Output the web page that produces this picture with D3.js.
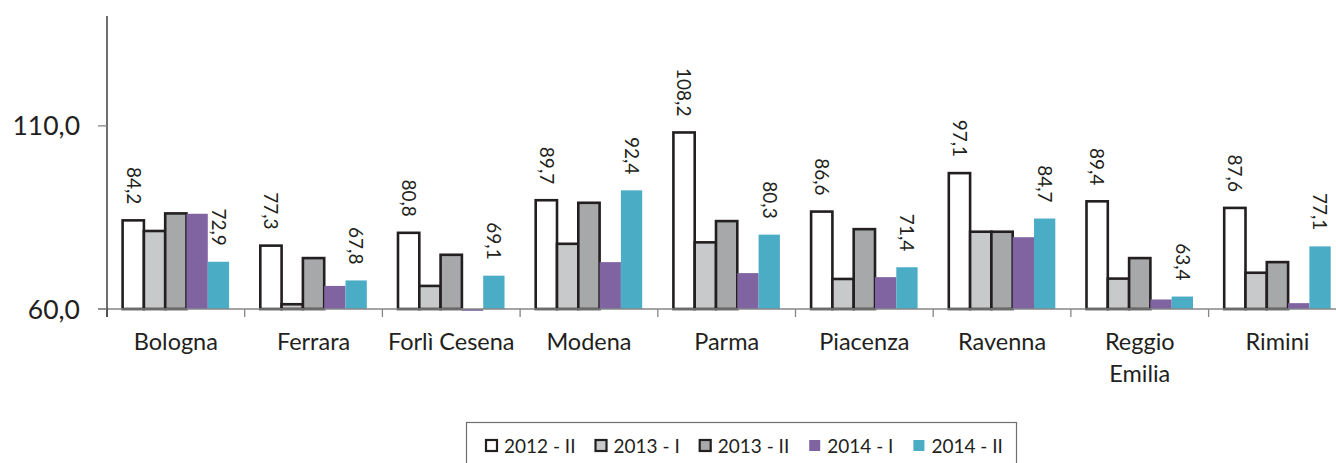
<!DOCTYPE html>
<html>
<head>
<meta charset="utf-8">
<script src="https://cdn.jsdelivr.net/npm/d3@7"></script>
<style>
  body { margin: 0; background: #fff; }
  svg { display: block; font-family: Lato, "Open Sans", sans-serif; }
</style>
</head>
<body>
<div id="chart"></div>
<script>
var provinces = ["Bologna", "Ferrara", "Forlì Cesena", "Modena", "Parma", "Piacenza", "Ravenna", "Reggio Emilia", "Rimini"];
var periods   = ["2012 - II", "2013 - I", "2013 - II", "2014 - I", "2014 - II"];

var s2012_II = [84.2, 77.3, 80.8, 89.7, 108.2, 86.6, 97.1, 89.4, 87.6];
var s2013_I  = [81.3, 61.3, 66.3, 77.8, 78.2, 68.2, 81.1, 68.3, 69.9];
var s2013_II = [86.1, 73.9, 74.8, 89.0, 84.0, 81.8, 81.1, 73.9, 72.8];
var s2014_I  = [86.0, 66.3, 59.5, 72.8, 69.8, 68.7, 79.6, 62.6, 61.6];
var s2014_II = [72.9, 67.8, 69.1, 92.4, 80.3, 71.4, 84.7, 63.4, 77.1];

var yTicks = [60, 110];
var labelled = ["2012 - II", "2014 - II"];

var fills   = ["#ffffff", "#c8c9ca", "#a7a8a9", "#8064a2", "#4bacc6"];
var strokes = ["#231f20", "#231f20", "#231f20", "none", "none"];

var margin = {top: 16, left: 107, right: 0, bottom: 154},
    W = 1336, H = 463,
    height = H - margin.top - margin.bottom,
    bandW = 137.7;

var allSeries = [s2012_II, s2013_I, s2013_II, s2014_I, s2014_II];
var data = provinces.map(function(p, i) {
  return {name: p, values: periods.map(function(s, j) { return {key: s, value: allSeries[j][i]}; })};
});

var x0 = d3.scaleBand().domain(provinces).range([0, bandW * provinces.length]).padding(0),
    x1 = d3.scaleBand().domain(periods).range([15.6, bandW - 15.6]),
    y  = d3.scaleLinear().domain([60, 140]).range([height, 0]),
    color = d3.scaleOrdinal().domain(periods).range(fills),
    edge  = d3.scaleOrdinal().domain(periods).range(strokes);

var fmt = function(v) { return d3.format(".1f")(v).replace(".", ","); };

var svg = d3.select("#chart").append("svg")
    .attr("width", W).attr("height", H);

var g = svg.append("g").attr("transform", "translate(" + margin.left + "," + margin.top + ")");

// bars
var groups = g.selectAll(".grp").data(data).enter().append("g")
    .attr("class", "grp")
    .attr("transform", function(d) { return "translate(" + x0(d.name) + ",0)"; });

groups.selectAll("rect").data(function(d) { return d.values; }).enter().append("rect")
    .attr("x", function(d) { return x1(d.key); })
    .attr("width", x1.bandwidth())
    .attr("y", function(d) { return Math.min(y(d.value), y(60)); })
    .attr("height", function(d) { return Math.abs(y(60) - y(d.value)); })
    .attr("fill", function(d) { return color(d.key); })
    .attr("stroke", function(d) { return edge(d.key); })
    .attr("stroke-width", 2.6);

// value labels
groups.selectAll("text.val").data(function(d) {
    return d.values.filter(function(v) { return labelled.indexOf(v.key) >= 0; });
  }).enter().append("text")
    .attr("class", "val")
    .attr("transform", function(d) {
      return "translate(" + (x1(d.key) + x1.bandwidth() / 2) + "," + (y(d.value) - 16) + ") rotate(90)";
    })
    .attr("text-anchor", "end")
    .attr("dy", "0.35em")
    .attr("font-size", 19)
    .attr("fill", "#231f20")
    .text(function(d) { return fmt(d.value); });

// x axis
var xAxis = g.append("g")
    .attr("transform", "translate(0," + height + ")");
xAxis.append("line")
    .attr("x1", -9).attr("x2", W).attr("stroke", "#868686").attr("stroke-width", 1.3);
xAxis.selectAll("line.tk").data(d3.range(provinces.length + 1)).enter().append("line")
    .attr("class", "tk")
    .attr("x1", function(i) { return i * x0.step(); })
    .attr("x2", function(i) { return i * x0.step(); })
    .attr("y1", 0).attr("y2", 8)
    .attr("stroke", "#868686").attr("stroke-width", 1.3);

xAxis.selectAll("text.cat").data(provinces).enter().append("text")
    .attr("class", "cat")
    .attr("x", function(d) { return x0(d) + x0.bandwidth() / 2; })
    .attr("y", 41)
    .attr("text-anchor", "middle")
    .attr("font-size", 23.5)
    .attr("fill", "#231f20")
    .each(function(d) {
      var t = d3.select(this), parts = d === "Reggio Emilia" ? ["Reggio", "Emilia"] : [d];
      parts.forEach(function(p, k) {
        t.append("tspan").attr("x", x0(d) + x0.bandwidth() / 2).attr("dy", k ? 31.5 : 0).text(p);
      });
    });

// y axis
g.append("line")
    .attr("x1", 0).attr("x2", 0).attr("y1", 0).attr("y2", height + 8)
    .attr("stroke", "#231f20").attr("stroke-width", 1.3);
g.selectAll("line.ytk").data(yTicks).enter().append("line")
    .attr("class", "ytk")
    .attr("x1", -9).attr("x2", 0)
    .attr("y1", function(d) { return y(d); }).attr("y2", function(d) { return y(d); })
    .attr("stroke", "#868686").attr("stroke-width", 1.3);
g.selectAll("text.ylab").data(yTicks).enter().append("text")
    .attr("class", "ylab")
    .attr("x", -27)
    .attr("y", function(d) { return y(d); })
    .attr("dy", "0.36em")
    .attr("text-anchor", "end")
    .attr("font-size", 26.5)
    .attr("fill", "#231f20")
    .text(fmt);

// legend
var leg = svg.append("g").attr("transform", "translate(466.5,422.5)");
leg.append("rect")
    .attr("width", 550).attr("height", 60)
    .attr("fill", "none").attr("stroke", "#6f6f6f").attr("stroke-width", 1.2);

var lx = 18.5;
periods.forEach(function(p, i) {
  var it = leg.append("g").attr("transform", "translate(" + lx + ",0)");
  it.append("rect")
      .attr("x", 1).attr("y", 17.5).attr("width", 11).attr("height", 11)
      .attr("fill", fills[i])
      .attr("stroke", strokes[i]).attr("stroke-width", 2.2);
  var t = it.append("text")
      .attr("x", 19).attr("y", 30)
      .attr("font-size", 19)
      .attr("fill", "#231f20")
      .text(p);
  lx += 19 + t.node().getComputedTextLength() + 19;
});
</script>
</body>
</html>
